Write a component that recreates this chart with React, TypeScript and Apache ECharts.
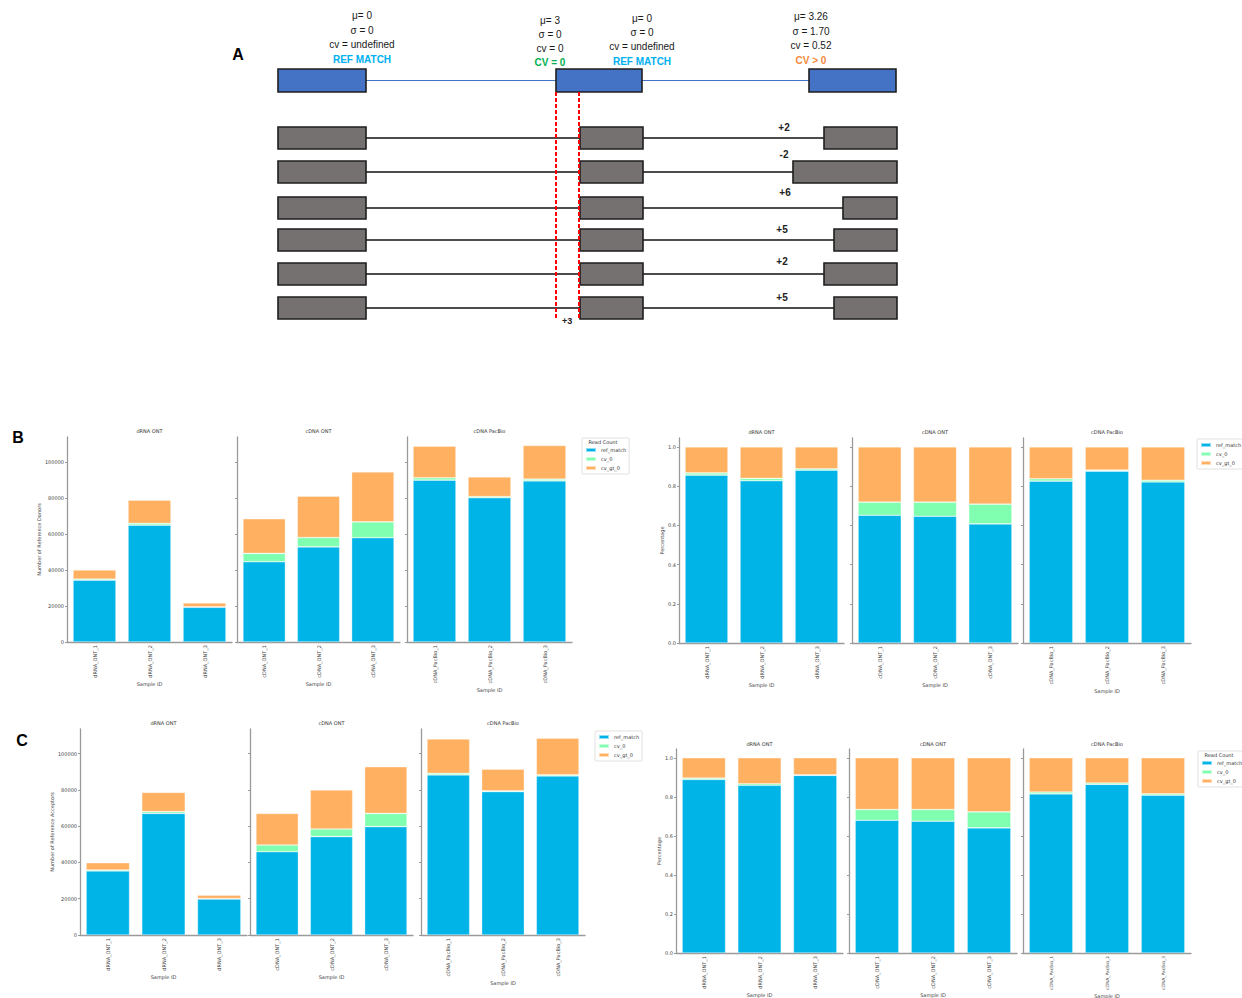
import React, { useEffect, useRef } from "react";
import * as echarts from "echarts";

// ---------- DATA ----------
const SERIES_NAMES = ["ref_match", "cv_0", "cv_gt_0"];
const SUBPLOT_TITLES = ["dRNA ONT", "cDNA ONT", "cDNA PacBio"];
const SAMPLES_DRNA = ["dRNA_ONT_1", "dRNA_ONT_2", "dRNA_ONT_3"];
const SAMPLES_CDNA_ONT = ["cDNA_ONT_1", "cDNA_ONT_2", "cDNA_ONT_3"];
const SAMPLES_CDNA_PACBIO = ["cDNA_PacBio_1", "cDNA_PacBio_2", "cDNA_PacBio_3"];
const COUNT_TICKS = [0, 20000, 40000, 60000, 80000, 100000];
const PCT_TICKS = [0, 0.2, 0.4, 0.6, 0.8, 1.0];

// Panel B, donors: counts [dRNA ONT, cDNA ONT, cDNA PacBio]
const donorRefMatch = [[34400, 65000, 19300], [44600, 52900, 58000], [90000, 80200, 89600]];
const donorCv0 = [[600, 1000, 300], [4700, 5200, 8800], [1300, 700, 1000]];
const donorCvGt0 = [[5000, 12900, 2100], [19200, 23000, 27800], [17600, 10900, 18700]];
// Panel B, donors: fractions
const donorPctRefMatch = [[0.856, 0.827, 0.881], [0.651, 0.646, 0.607], [0.825, 0.876, 0.821]];
const donorPctCv0 = [[0.011, 0.012, 0.007], [0.067, 0.072, 0.101], [0.012, 0.005, 0.009]];
const donorPctCvGt0 = [[0.133, 0.161, 0.112], [0.282, 0.282, 0.292], [0.163, 0.119, 0.17]];
// Panel C, acceptors: counts
const accRefMatch = [[35300, 67000, 19800], [45900, 54200, 59700], [88200, 79000, 87600]];
const accCv0 = [[500, 1000, 300], [3700, 4200, 7300], [900, 500, 600]];
const accCvGt0 = [[4000, 10600, 1800], [17400, 21500, 25700], [18900, 11800, 20200]];
// Panel C, acceptors: fractions
const accPctRefMatch = [[0.889, 0.859, 0.91], [0.68, 0.675, 0.641], [0.815, 0.864, 0.808]];
const accPctCv0 = [[0.007, 0.008, 0.003], [0.055, 0.06, 0.082], [0.01, 0.007, 0.007]];
const accPctCvGt0 = [[0.104, 0.133, 0.087], [0.265, 0.265, 0.277], [0.175, 0.129, 0.185]];

// Diagram texts
const COL_TEXTS = [
  ["μ= 0", "σ = 0", "cv = undefined", "REF MATCH"],
  ["μ= 3", "σ = 0", "cv = 0", "CV = 0"],
  ["μ= 0", "σ = 0", "cv = undefined", "REF MATCH"],
  ["μ= 3.26", "σ = 1.70", "cv = 0.52", "CV > 0"],
];
const SHIFT_LABELS = ["+2", "-2", "+6", "+5", "+2", "+5"];

// ---------- STYLE / LAYOUT ----------
const COLORS = ["#00b4e8", "#80ffb0", "#ffb060"];
const CHART_FONT = "DejaVu Sans";
const DIA_FONT = "Liberation Sans";

const CATS = [SAMPLES_DRNA, SAMPLES_CDNA_ONT, SAMPLES_CDNA_PACBIO];

const PANELS = [
  {
    rects: [[67, 437, 165, 205], [237, 437, 163, 205], [407, 437, 165, 205]],
    max: 114000, ticks: COUNT_TICKS, yName: "Number of Reference Donors", yGap: 25,
    fmt: (v: number) => String(v), titleY: 431, xGaps: [37, 37, 42], tickFont: [5, 5, 5],
    data: [donorRefMatch, donorCv0, donorCvGt0],
    legend: { left: 582, top: 438, title: true },
  },
  {
    rects: [[679, 438, 165, 205], [852, 438, 166, 205], [1023, 438, 168, 205]],
    max: 1.045, ticks: PCT_TICKS, yName: "Percentage", yGap: 13,
    fmt: (v: number) => v.toFixed(1), titleY: 432, xGaps: [37, 37, 42], tickFont: [5, 5, 5],
    data: [donorPctRefMatch, donorPctCv0, donorPctCvGt0],
    legend: { left: 1197, top: 439, title: false },
  },
  {
    rects: [[80, 729, 167, 206], [250, 729, 163, 206], [421, 729, 164, 206]],
    max: 113500, ticks: COUNT_TICKS, yName: "Number of Reference Acceptors", yGap: 25,
    fmt: (v: number) => String(v), titleY: 723, xGaps: [37, 37, 43], tickFont: [5, 5, 5],
    data: [accRefMatch, accCv0, accCvGt0],
    legend: { left: 595, top: 731, title: false },
  },
  {
    rects: [[676, 749, 167, 204], [849, 749, 168, 204], [1023, 749, 168, 204]],
    max: 1.045, ticks: PCT_TICKS, yName: "Percentage", yGap: 13,
    fmt: (v: number) => v.toFixed(1), titleY: 744, xGaps: [33, 33, 35], tickFont: [5, 5, 4.4],
    data: [accPctRefMatch, accPctCv0, accPctCvGt0],
    legend: { left: 1198, top: 751, title: true },
  },
];

function buildDiagram(): any[] {
  const els: any[] = [];
  const boxStroke = "#1e1e1e";
  // panel letters
  els.push({ type: "text", x: 238, y: 54, style: { text: "A", font: `bold 16px ${DIA_FONT}`, fill: "#000", align: "center", verticalAlign: "middle" } });
  els.push({ type: "text", x: 18, y: 437, style: { text: "B", font: `bold 16px ${DIA_FONT}`, fill: "#000", align: "center", verticalAlign: "middle" } });
  els.push({ type: "text", x: 22, y: 740, style: { text: "C", font: `bold 16px ${DIA_FONT}`, fill: "#000", align: "center", verticalAlign: "middle" } });

  // top reference row
  const blue = "#4472c4";
  els.push({ type: "line", shape: { x1: 366, y1: 80.5, x2: 556, y2: 80.5 }, style: { stroke: blue, lineWidth: 1.2 } });
  els.push({ type: "line", shape: { x1: 642, y1: 80.5, x2: 809, y2: 80.5 }, style: { stroke: blue, lineWidth: 1.2 } });
  [[278, 88], [556, 86], [809, 87]].forEach(([x, w]) => {
    els.push({ type: "rect", shape: { x, y: 69, width: w, height: 23 }, style: { fill: blue, stroke: boxStroke, lineWidth: 1.6 } });
  });

  // column texts
  const colX = [362, 550, 642, 811];
  const colY = [[15, 30, 44, 59], [20, 34, 48, 62], [18, 32, 46, 61], [16, 31, 45, 60]];
  const accent = ["#00b0f0", "#00b050", "#00b0f0", "#f28a3a"];
  COL_TEXTS.forEach((lines, ci) => {
    lines.forEach((t, li) => {
      const isAccent = li === 3;
      els.push({
        type: "text", x: colX[ci], y: colY[ci][li],
        style: {
          text: t, align: "center", verticalAlign: "middle",
          font: `${isAccent ? "bold " : ""}10px ${DIA_FONT}`,
          fill: isAccent ? accent[ci] : "#1a1a1a",
        },
      });
    });
  });

  // grey alternative rows
  const grey = "#767171";
  const rowY = [127, 161, 197, 229, 263, 297];
  const rightX = [824, 793, 843, 834, 824, 834];
  const labelY = [127, 154, 192, 229, 261, 297];
  const labelX = [784, 784, 785, 782, 782, 782];
  rowY.forEach((y, i) => {
    const h = 22;
    const my = y + h / 2;
    els.push({ type: "line", shape: { x1: 366, y1: my, x2: 580, y2: my }, style: { stroke: "#111", lineWidth: 1.3 } });
    els.push({ type: "line", shape: { x1: 643, y1: my, x2: rightX[i], y2: my }, style: { stroke: "#111", lineWidth: 1.3 } });
    els.push({ type: "rect", shape: { x: 278, y, width: 88, height: h }, style: { fill: grey, stroke: boxStroke, lineWidth: 1.6 } });
    els.push({ type: "rect", shape: { x: 580, y, width: 63, height: h }, style: { fill: grey, stroke: boxStroke, lineWidth: 1.6 } });
    els.push({ type: "rect", shape: { x: rightX[i], y, width: 897 - rightX[i], height: h }, style: { fill: grey, stroke: boxStroke, lineWidth: 1.6 } });
    els.push({ type: "text", x: labelX[i], y: labelY[i], style: { text: SHIFT_LABELS[i], align: "center", verticalAlign: "middle", font: `bold 10px ${DIA_FONT}`, fill: "#222" } });
  });

  // red dashed lines
  [556, 579].forEach((x) => {
    els.push({ type: "line", z: 10, shape: { x1: x, y1: 92, x2: x, y2: 319 }, style: { stroke: "#ff0000", lineWidth: 2, lineDash: [4, 2] } });
  });
  els.push({ type: "text", x: 567, y: 321, style: { text: "+3", align: "center", verticalAlign: "middle", font: `bold 9px ${DIA_FONT}`, fill: "#222" } });

  // subplot titles and legend titles
  PANELS.forEach((p) => {
    p.rects.forEach((r, s) => {
      els.push({ type: "text", x: r[0] + r[2] / 2, y: p.titleY, style: { text: SUBPLOT_TITLES[s], align: "center", verticalAlign: "middle", font: `5px ${CHART_FONT}`, fill: "#333" } });
    });
    if (p.legend.title) {
      els.push({ type: "text", z: 100, x: p.legend.left + 21, y: p.legend.top + 4, style: { text: "Read Count", align: "center", verticalAlign: "middle", font: `5px ${CHART_FONT}`, fill: "#333" } });
    }
  });
  return els;
}

function buildOption(): any {
  const grid: any[] = [];
  const xAxis: any[] = [];
  const yAxis: any[] = [];
  const series: any[] = [];
  const legend: any[] = [];
  const axisColor = "#9a9a9a";
  PANELS.forEach((p, pi) => {
    p.rects.forEach((r, s) => {
      const g = pi * 3 + s;
      grid.push({ left: r[0], top: r[1], width: r[2], height: r[3], containLabel: false, outerBoundsMode: "none" });
      xAxis.push({
        type: "category", gridIndex: g, data: CATS[s],
        axisLine: { lineStyle: { color: axisColor, width: 1.3 } },
        axisTick: { alignWithLabel: true, length: 2, lineStyle: { color: axisColor } },
        axisLabel: { rotate: 90, fontSize: p.tickFont[s], color: "#444", margin: 3, fontFamily: CHART_FONT },
        name: "Sample ID", nameLocation: "middle", nameGap: p.xGaps[s],
        nameTextStyle: { fontSize: 5, color: "#444", fontFamily: CHART_FONT },
      });
      yAxis.push({
        type: "value", gridIndex: g, min: 0, max: p.max,
        axisLine: { show: true, lineStyle: { color: axisColor, width: 1.3 } },
        axisTick: { show: true, length: 2, lineStyle: { color: axisColor }, customValues: p.ticks },
        axisLabel: { show: s === 0, fontSize: 5, color: "#444", margin: 3, fontFamily: CHART_FONT, customValues: p.ticks, formatter: p.fmt },
        splitLine: { show: false },
        name: s === 0 ? p.yName : "", nameLocation: "middle", nameGap: p.yGap, nameRotate: 90,
        nameTextStyle: { fontSize: 5, color: "#444", fontFamily: CHART_FONT },
      });
      SERIES_NAMES.forEach((name, k) => {
        series.push({
          type: "bar", name, xAxisIndex: g, yAxisIndex: g, stack: "st" + g,
          data: p.data[k][s], barWidth: "78%",
          itemStyle: { color: COLORS[k], borderColor: "rgba(255,255,255,0.55)", borderWidth: 0.6 },
        });
      });
    });
    legend.push({
      left: p.legend.left, top: p.legend.top, orient: "vertical",
      data: SERIES_NAMES.map((n) => ({ name: n, icon: "rect" })),
      itemWidth: 10, itemHeight: 4, itemGap: 3,
      textStyle: { fontSize: 5, color: "#333", fontFamily: CHART_FONT },
      borderColor: "#cccccc", borderWidth: 0.6, borderRadius: 1,
      padding: p.legend.title ? [9, 3, 3, 3] : [3, 3, 3, 3],
      backgroundColor: "#fff",
    });
  });
  return {
    animation: false,
    backgroundColor: "#ffffff",
    grid, xAxis, yAxis, series, legend,
    graphic: { elements: buildDiagram() },
  };
}

export default function App() {
  const ref = useRef<HTMLDivElement>(null);
  useEffect(() => {
    if (!ref.current) return;
    const chart = echarts.init(ref.current, null, { renderer: "svg" });
    chart.setOption(buildOption());
    return () => chart.dispose();
  }, []);
  return (
    <div
      ref={ref}
      style={{ position: "absolute", left: 0, top: 0, width: 1242, height: 998, background: "#fff" }}
    />
  );
}
